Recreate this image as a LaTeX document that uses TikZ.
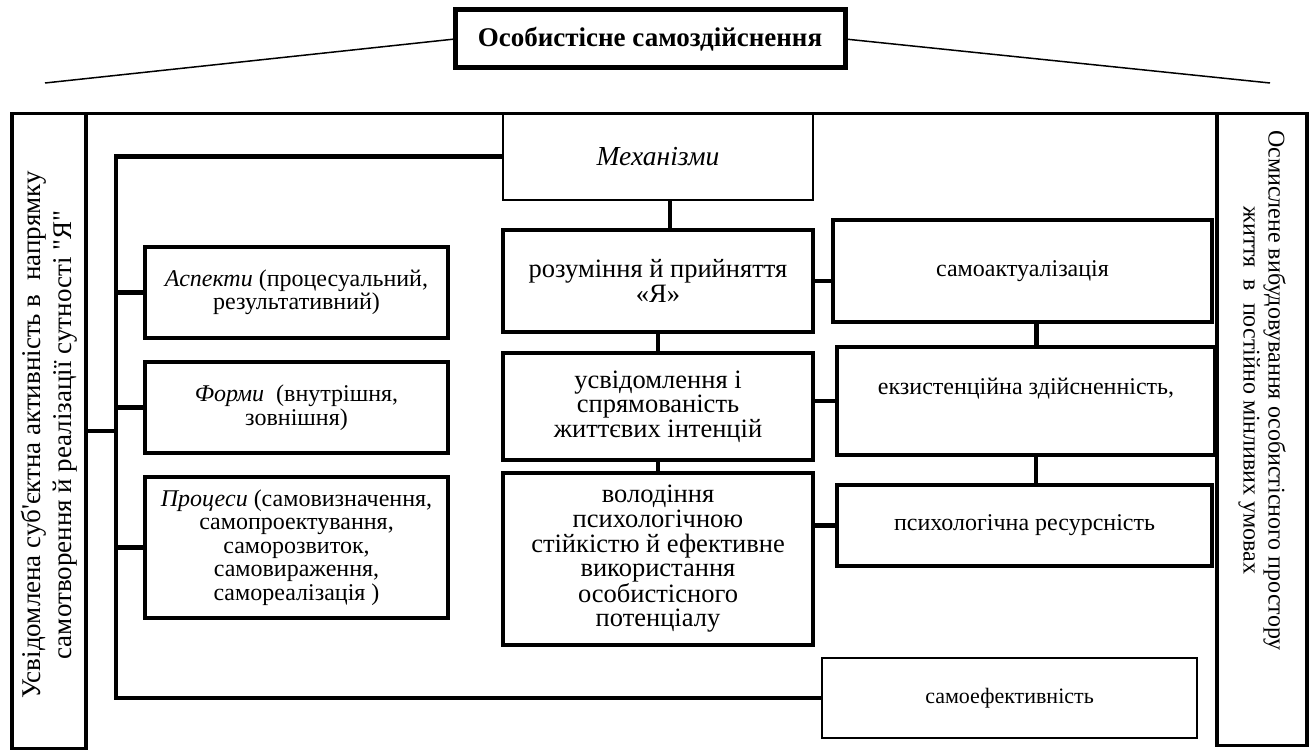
\documentclass[tikz,border=0pt]{standalone}
\usepackage{fontspec}
\setmainfont{Liberation Serif}
\usepackage{tikz}
\usetikzlibrary{positioning,calc}

\begin{document}
\begin{tikzpicture}[x=1pt, y=-1pt,
  side/.style={font=\fontsize{24}{23.5}\selectfont, align=center},
  mid/.style={font=\fontsize{26.5}{24.6}\selectfont, align=center},
  box/.style={draw, line width=3.5pt, inner sep=2pt, outer sep=0pt},
  thinbox/.style={box, line width=2.5pt},
  colbox/.style={draw, line width=3.5pt, outer sep=0pt},
  link/.style={line width=4.5pt},
  ray/.style={line width=1.5pt}]
\useasboundingbox (0,0) rectangle (1315,751);
% title and its two rays
\node[box, line width=5pt, font=\fontsize{27}{30}\selectfont\bfseries,
  minimum width=390, minimum height=58] (title) at (650,39)
  {Особистісне самоздійснення};
\coordinate (rayl) at (45,83);
\coordinate (rayr) at (1270,83);
\draw[ray] (title.west) -- (rayl);
\draw[ray] (title.east) -- (rayr);
% side columns of the frame
\node[colbox, minimum width=74, minimum height=635] (leftcol) at (49,431) {};
\node[rotate=90, align=center, font=\fontsize{27}{31}\selectfont] (lefttext)
  at ([yshift=-4]leftcol.center)
  {Усвідомлена суб\textquotesingle єктна активність в\ \ напрямку\\
   самотворення й реалізації сутності \textquotedbl Я\textquotedbl};
\node[colbox, minimum width=90, minimum height=632] (rightcol) at (1262,429.5) {};
\node[rotate=-90, align=center, font=\fontsize{24}{25}\selectfont] (righttext)
  at ([yshift=39]rightcol.center)
  {Осмислене вибудовування особистісного простору\\
   життя\ \ в\ \ постійно мінливих умовах};
\draw[colbox] (leftcol.north east) -- (rightcol.north west);
% middle column
\node[thinbox, minimum width=310, minimum height=87,
  font=\fontsize{27.5}{30}\selectfont\itshape] (mech) at (658,156.5)
  {Механізми};
\node[box, mid, minimum width=310, minimum height=102] (underst) at (658,281)
  {розуміння й прийняття\\«Я»};
\node[box, mid, minimum width=310, minimum height=107] (aware) at (658,406.5)
  {усвідомлення і\\спрямованість\\життєвих інтенцій};
\node[box, mid, minimum width=310, minimum height=172] (master) at (658,559)
  {володіння\\психологічною\\стійкістю й ефективне\\використання\\особистісного\\потенціалу};
% right column
\node[box, side, minimum width=379, minimum height=102] (actual) at (1022.5,271)
  {самоактуалізація};
\node[box, side, minimum width=378, minimum height=108] (exist) at (1026,401)
  {екзистенційна здійсненність,\\[6pt]};
\node[box, side, minimum width=375, minimum height=81] (resource) at (1024.5,525.5)
  {психологічна ресурсність};
\node[thinbox, font=\fontsize{22}{24}\selectfont,
  minimum width=375, minimum height=80] (selfeff) at (1009.5,698)
  {самоефективність};
% left column
\node[box, side, minimum width=303, minimum height=91] (aspects) at (296.5,292.5)
  {\textit{Аспекти} (процесуальний,\\результативний)};
\node[box, side, minimum width=303, minimum height=91] (forms) at (296.5,407.5)
  {\textit{Форми}\ \ (внутрішня,\\зовнішня)};
\node[box, side, minimum width=303, minimum height=141] (procs) at (296.5,547.5)
  {\textit{Процеси} (самовизначення,\\самопроектування,\\саморозвиток,\\самовираження,\\самореалізація )};
% links
\coordinate (spine) at (116,432);
\draw[link] (mech.west) -| (spine) |- (selfeff.west);
\foreach \b in {aspects,forms,procs}
  \draw[link] (\b.west) -- (\b.west -| spine);
\draw[link] (leftcol.east) -- (leftcol.east -| spine);
\draw[link] ([xshift=12]mech.south) -- ([xshift=12]mech.south |- underst.north);
\draw[link] (underst.south) -- (aware.north);
\draw[link] (aware.south) -- (master.north);
\draw[link] (underst.east) -- (underst.east -| actual.west);
\draw[link] (exist.west) -- (exist.west -| aware.east);
\draw[link] (resource.west) -- (resource.west -| master.east);
\draw[link] ([xshift=14]actual.south) -- ([xshift=14]actual.south |- exist.north);
\draw[link] ([xshift=10]exist.south) -- ([xshift=10]exist.south |- resource.north);
\end{tikzpicture}
\end{document}
